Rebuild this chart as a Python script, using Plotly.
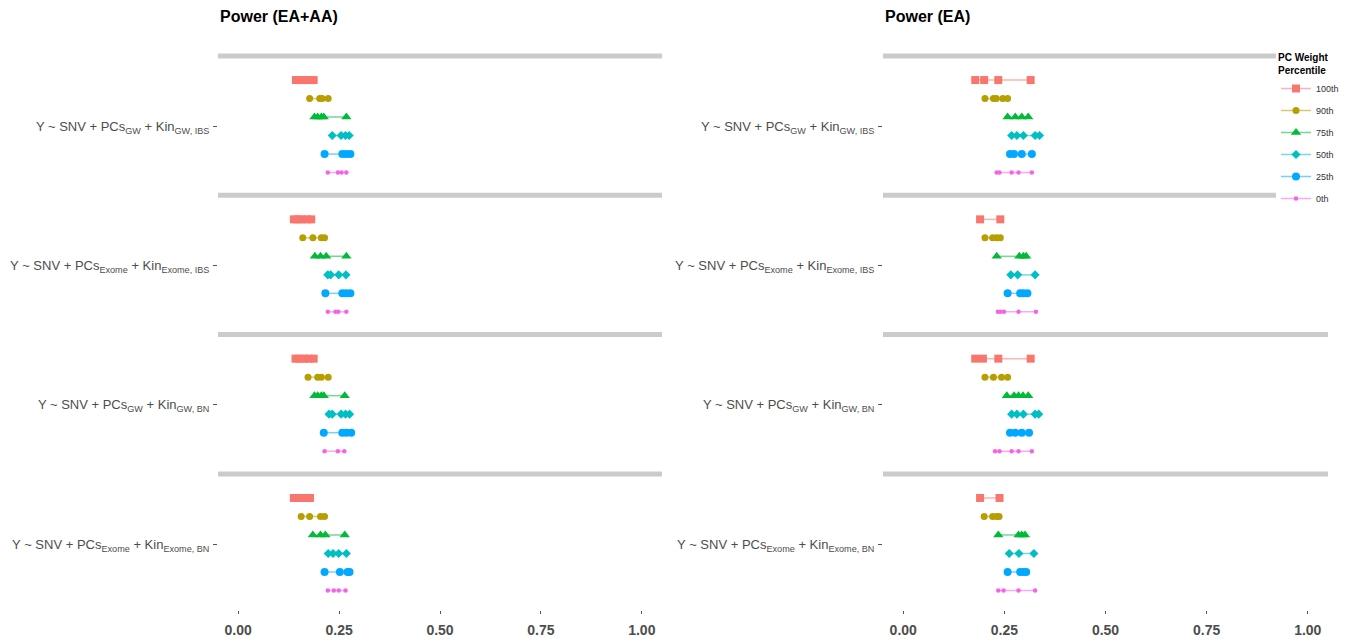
import plotly.graph_objects as go

# Legend / series definitions
percentiles = ["100th", "90th", "75th", "50th", "25th", "0th"]
colors = ["#F8766D", "#B79F00", "#00BA38", "#00BFC4", "#00A9FF", "#F564E3"]
line_colors = ["rgba(248,118,109,0.55)", "rgba(183,159,0,0.55)", "rgba(0,186,56,0.55)",
               "rgba(0,191,196,0.55)", "rgba(0,169,255,0.55)", "rgba(245,100,227,0.55)"]
symbols = ["square", "circle", "triangle-up", "diamond", "circle", "circle"]
sizes = [8, 7, 9, 7, 8, 4.5]

# Model formulas (facet rows)
models = [
    "Y ~ SNV + PCs<sub>GW</sub> + Kin<sub>GW, IBS</sub>",
    "Y ~ SNV + PCs<sub>Exome</sub> + Kin<sub>Exome, IBS</sub>",
    "Y ~ SNV + PCs<sub>GW</sub> + Kin<sub>GW, BN</sub>",
    "Y ~ SNV + PCs<sub>Exome</sub> + Kin<sub>Exome, BN</sub>",
]

panel_titles = ["Power (EA+AA)", "Power (EA)"]
x_ticks = [0.0, 0.25, 0.5, 0.75, 1.0]

# Power, EA+AA sample: one list per PC weight percentile (100th ... 0th)
ea_aa_gw_ibs = [
    [0.143, 0.152, 0.165, 0.176, 0.187],
    [0.177, 0.202, 0.208, 0.223],
    [0.189, 0.197, 0.206, 0.212, 0.268],
    [0.233, 0.255, 0.266, 0.275],
    [0.214, 0.258, 0.268, 0.278],
    [0.222, 0.247, 0.256, 0.268],
]
ea_aa_exome_ibs = [
    [0.138, 0.147, 0.158, 0.170, 0.181],
    [0.160, 0.185, 0.206, 0.214],
    [0.190, 0.204, 0.218, 0.268],
    [0.222, 0.229, 0.249, 0.267],
    [0.216, 0.258, 0.268, 0.278],
    [0.222, 0.241, 0.248, 0.268],
]
ea_aa_gw_bn = [
    [0.142, 0.151, 0.163, 0.175, 0.187],
    [0.173, 0.197, 0.206, 0.223],
    [0.189, 0.197, 0.206, 0.212, 0.264],
    [0.225, 0.233, 0.255, 0.266, 0.276],
    [0.212, 0.258, 0.268, 0.280],
    [0.214, 0.247, 0.263],
]
ea_aa_exome_bn = [
    [0.138, 0.147, 0.157, 0.168, 0.178],
    [0.156, 0.177, 0.204, 0.214],
    [0.185, 0.204, 0.216, 0.264],
    [0.223, 0.235, 0.249, 0.268],
    [0.214, 0.252, 0.271, 0.276],
    [0.222, 0.237, 0.249, 0.266],
]

# Power, EA sample
ea_gw_ibs = [
    [0.178, 0.200, 0.235, 0.315],
    [0.202, 0.223, 0.230, 0.246, 0.258],
    [0.258, 0.277, 0.293, 0.309],
    [0.268, 0.281, 0.297, 0.326, 0.337],
    [0.264, 0.274, 0.293, 0.318],
    [0.231, 0.238, 0.268, 0.285, 0.318],
]
ea_exome_ibs = [
    [0.190, 0.240],
    [0.202, 0.221, 0.231, 0.240],
    [0.231, 0.287, 0.297, 0.304],
    [0.266, 0.283, 0.326],
    [0.258, 0.289, 0.297, 0.307],
    [0.234, 0.240, 0.249, 0.285, 0.328],
]
ea_gw_bn = [
    [0.178, 0.197, 0.235, 0.315],
    [0.202, 0.223, 0.243, 0.258],
    [0.256, 0.274, 0.285, 0.296, 0.309],
    [0.268, 0.281, 0.297, 0.326, 0.335],
    [0.264, 0.277, 0.293, 0.311],
    [0.227, 0.238, 0.268, 0.285, 0.318],
]
ea_exome_bn = [
    [0.190, 0.238],
    [0.200, 0.221, 0.231, 0.237],
    [0.235, 0.285, 0.293, 0.301],
    [0.262, 0.286, 0.323],
    [0.258, 0.289, 0.297, 0.304],
    [0.235, 0.248, 0.285, 0.326],
]

panels = [
    [ea_aa_gw_ibs, ea_aa_exome_ibs, ea_aa_gw_bn, ea_aa_exome_bn],
    [ea_gw_ibs, ea_exome_ibs, ea_gw_bn, ea_exome_bn],
]

# Vertical layout in row units: each facet holds 6 rows below a grey strip
FACET = 7.53
OFFSET = 1.3
W, H = 1348, 644
y_top_px, y_bot_px = 50, 610
ROW_PX = 18.5
y_range = [(y_bot_px - 56) / ROW_PX, (y_top_px - 56) / ROW_PX]
y_domain = [1 - y_bot_px / H, 1 - y_top_px / H]
x_domains = [[218 / W, 662 / W], [883 / W, 1328 / W]]

fig = go.Figure()

for p, facets in enumerate(panels):
    xa = "x" if p == 0 else "x2"
    ya = "y" if p == 0 else "y2"
    for f, rows in enumerate(facets):
        for r, vals in enumerate(rows):
            xs = sorted(vals)
            ys = [f * FACET + OFFSET + r] * len(xs)
            fig.add_trace(go.Scatter(
                x=xs, y=ys, xaxis=xa, yaxis=ya,
                mode="lines+markers",
                name=percentiles[r],
                legendgroup=percentiles[r],
                showlegend=(p == 0 and f == 0),
                line=dict(color=line_colors[r], width=1.5),
                marker=dict(color=colors[r], symbol=symbols[r], size=sizes[r],
                            line=dict(width=0)),
                hoverinfo="x+name",
            ))
        # grey strip above each facet
        fig.add_shape(type="line", xref=f"{xa} domain", yref=ya,
                      x0=0, x1=1, y0=f * FACET, y1=f * FACET,
                      line=dict(color="#CBCBCB", width=5), layer="below")

label_ticks = [f * FACET + OFFSET + 2.5 for f in range(len(models))]

axis_font = dict(family="Liberation Sans, Arial, sans-serif", size=13, color="#4D4D4D")
for p in range(2):
    xkey = "xaxis" if p == 0 else "xaxis2"
    ykey = "yaxis" if p == 0 else "yaxis2"
    fig.update_layout({
        xkey: dict(domain=x_domains[p], range=[-0.05, 1.05], anchor="y" if p == 0 else "y2",
                   tickvals=x_ticks, ticktext=[f"<b>{v:.2f}</b>" for v in x_ticks],
                   ticks="outside", ticklen=3, tickcolor="#555555",
                   showgrid=False, zeroline=False, showline=False, automargin=False,
                   ticklabelstandoff=4,
                   tickfont=dict(family="Liberation Sans, Arial, sans-serif", size=14, color="#4D4D4D")),
        ykey: dict(domain=y_domain, range=y_range, anchor="x" if p == 0 else "x2",
                   tickvals=label_ticks, ticktext=models,
                   ticks="outside", ticklen=4, tickcolor="#555555",
                   showgrid=False, zeroline=False, showline=False, automargin=False,
                   ticklabelstandoff=1,
                   tickfont=axis_font),
    })

for p, title in enumerate(panel_titles):
    fig.add_annotation(text=f"<b>{title}</b>", xref="paper", yref="paper",
                       x=x_domains[p][0], y=1 - 16 / H, xanchor="left", yanchor="middle",
                       showarrow=False,
                       font=dict(family="Liberation Sans, Arial, sans-serif", size=16, color="#000000"))

fig.update_layout(
    width=W, height=H,
    margin=dict(l=0, r=0, t=0, b=0, autoexpand=False),
    paper_bgcolor="white", plot_bgcolor="white",
    legend=dict(
        title=dict(text="<b>PC Weight<br>Percentile</b>",
                   font=dict(family="Liberation Sans, Arial, sans-serif", size=10, color="#000000")),
        x=1276 / W, y=1 - 48 / H, xanchor="left", yanchor="top",
        bgcolor="white", traceorder="grouped", tracegroupgap=3,
        font=dict(family="Liberation Sans, Arial, sans-serif", size=9, color="#333333"),
        itemwidth=30,
    ),
)

fig.write_html("out.html")
